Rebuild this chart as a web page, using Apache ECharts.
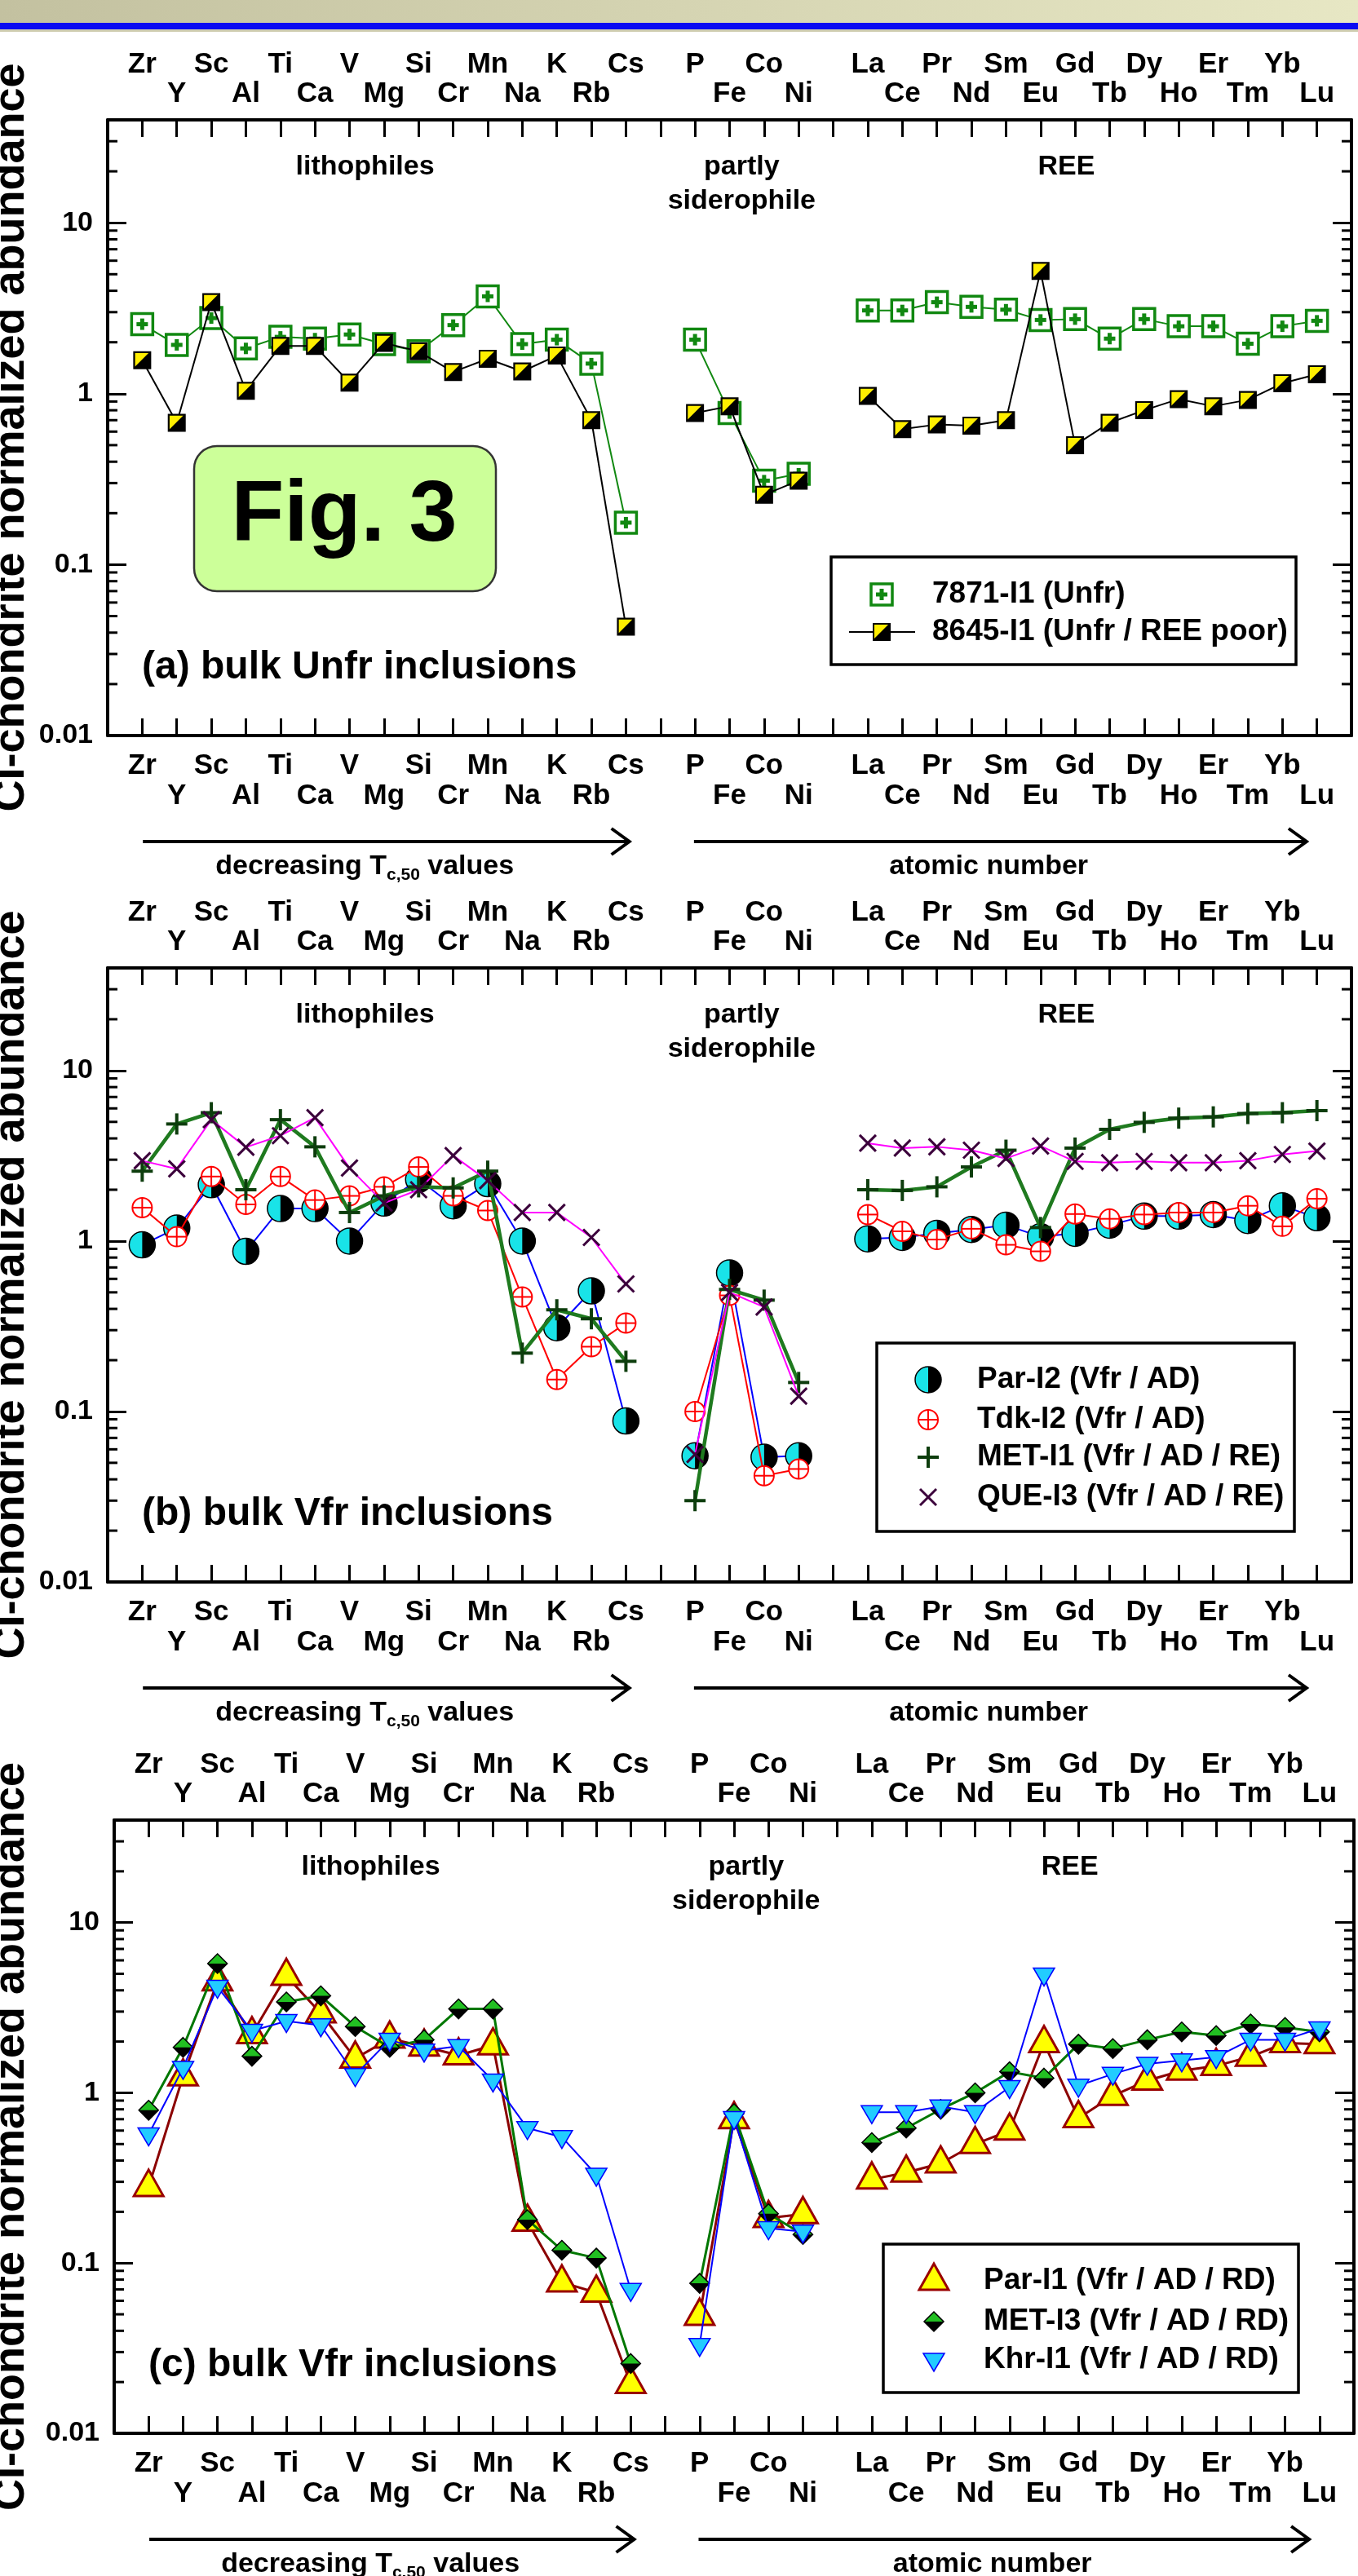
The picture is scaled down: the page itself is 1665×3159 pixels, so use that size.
<!DOCTYPE html>
<html><head><meta charset="utf-8">
<script src="https://cdn.jsdelivr.net/npm/echarts@6/dist/echarts.min.js"></script>
<style>html,body{margin:0;padding:0;background:#fff}#c{width:1665px;height:3159px}</style>
</head><body><div id="c"></div>
<script>
// ---------------- data ----------------
const ELEMENTS = ['Zr','Y','Sc','Al','Ti','Ca','V','Mg','Si','Cr','Mn','Na','K','Rb','Cs','',
  'P','Fe','Co','Ni','',
  'La','Ce','Pr','Nd','Sm','Eu','Gd','Tb','Dy','Ho','Er','Tm','Yb','Lu'];
const Y_TICK_LABELS = [0.01, 0.1, 1, 10];
const MINOR_TICKS = [0.02,0.03,0.04,0.05,0.06,0.07,0.08,0.09,0.2,0.3,0.4,0.5,0.6,0.7,0.8,0.9,2,3,4,5,6,7,8,9,20,30];

// panel (a)
const A_7871 = [2.55,1.93,2.77,1.84,2.15,2.10,2.22,1.95,1.77,2.52,3.71,1.95,2.07,1.50,0.176,null,
  2.07,0.77,0.31,0.34,null,
  3.07,3.07,3.43,3.22,3.10,2.70,2.73,2.10,2.73,2.48,2.48,1.96,2.48,2.67];
const A_8645 = [1.57,0.676,3.43,1.04,1.90,1.90,1.16,1.98,1.77,1.34,1.60,1.35,1.67,0.70,0.0434,null,
  0.77,0.845,0.256,0.31,null,
  0.97,0.62,0.66,0.65,0.70,5.22,0.50,0.676,0.80,0.93,0.845,0.92,1.15,1.30];
// panel (b)
const B_PAR = [0.95,1.19,2.14,0.87,1.55,1.55,1.00,1.67,2.30,1.61,2.17,1.00,0.31,0.51,0.088,null,
  0.055,0.65,0.054,0.055,null,
  1.03,1.05,1.11,1.17,1.24,1.06,1.11,1.24,1.40,1.40,1.43,1.32,1.61,1.37];
const B_TDK = [1.57,1.06,2.39,1.64,2.39,1.74,1.84,2.08,2.72,1.84,1.51,0.47,0.154,0.24,0.33,null,
  0.10,0.48,0.042,0.046,null,
  1.43,1.14,1.02,1.18,0.95,0.87,1.44,1.35,1.43,1.47,1.47,1.61,1.22,1.77];
const B_MET = [2.57,4.86,5.66,2.00,5.15,3.57,1.47,1.84,2.08,2.05,2.57,0.22,0.395,0.35,0.197,null,
  0.030,0.52,0.45,0.148,null,
  2.00,1.98,2.08,2.72,3.41,1.20,3.51,4.52,4.97,5.26,5.35,5.60,5.66,5.82];
const B_QUE = [2.96,2.65,5.15,3.55,4.15,5.29,2.68,1.67,2.00,3.17,2.26,1.47,1.47,1.05,0.56,null,
  0.056,0.50,0.41,0.123,null,
  3.75,3.51,3.57,3.41,3.05,3.61,2.93,2.88,2.93,2.88,2.88,2.96,3.22,3.37];
// panel (c)
const C_PAR = [0.28,1.25,4.52,2.21,4.86,2.93,1.59,2.08,1.87,1.66,1.90,0.175,0.077,0.067,0.0195,null,
  0.049,0.70,0.184,0.194,null,
  0.31,0.34,0.385,0.50,0.60,1.96,0.71,0.96,1.18,1.35,1.44,1.63,1.96,1.93];
const C_MET = [0.79,1.85,5.74,1.64,3.42,3.71,2.45,1.85,2.05,3.11,3.11,0.18,0.119,0.107,0.0257,null,
  0.076,0.755,0.195,0.147,null,
  0.51,0.62,0.80,1.00,1.33,1.22,1.93,1.82,2.05,2.28,2.17,2.54,2.42,2.28];
const C_KHR = [0.57,1.40,4.19,2.31,2.64,2.49,1.27,2.05,1.77,1.88,1.18,0.62,0.55,0.33,0.0695,null,
  0.033,0.71,0.16,0.153,null,
  0.77,0.77,0.83,0.77,1.08,4.95,1.10,1.29,1.48,1.55,1.62,2.05,2.05,2.39];

// ---------------- layout / style ----------------
const FONT = '"Liberation Sans", Arial, Helvetica, sans-serif';
const NPOS = 36;
const PANELS = [
  {left:132, right:1657, top:147, bottom:902, title:'(a) bulk Unfr inclusions'},
  {left:132, right:1657, top:1187, bottom:1940, title:'(b) bulk Vfr inclusions'},
  {left:140, right:1660, top:2232, bottom:2984, title:'(c) bulk Vfr inclusions'}
];
const SETS = [
  [ {name:'7871-I1 (Unfr)', data:A_7871, color:'#118811', width:2, mark:'sqPlus', legendLine:false},
    {name:'8645-I1 (Unfr / REE poor)', data:A_8645, color:'#000000', width:2, mark:'sqHalf', legendLine:true} ],
  [ {name:'Par-I2 (Vfr / AD)', data:B_PAR, color:'#0000ff', width:2, mark:'halfCircle'},
    {name:'Tdk-I2 (Vfr / AD)', data:B_TDK, color:'#ff0000', width:2, mark:'circPlus'},
    {name:'MET-I1 (Vfr / AD / RE)', data:B_MET, color:'#1f7a1f', width:4.5, mark:'plus'},
    {name:'QUE-I3 (Vfr / AD / RE)', data:B_QUE, color:'#ff00ff', width:2, mark:'cross'} ],
  [ {name:'Par-I1 (Vfr / AD / RD)', data:C_PAR, color:'#8b0000', width:3, mark:'triUp'},
    {name:'MET-I3 (Vfr / AD / RD)', data:C_MET, color:'#007700', width:3, mark:'diamond'},
    {name:'Khr-I1 (Vfr / AD / RD)', data:C_KHR, color:'#0000ff', width:2, mark:'triDown'} ]
];
const LEGENDS = [
  {box:[1019,683,570,132], rows:[729,775], iconX:1081, textX:1143},
  {box:[1075,1647,512,231], rows:[1692,1741,1787,1836], iconX:1138, textX:1198},
  {box:[1083,2752,509,182], rows:[2797,2847,2894], iconX:1145, textX:1206}
];

// row (1 = first row next to/away from frame) for staggered element labels
const ROW = [];
(function(){ let k = 0; ELEMENTS.forEach(e => { if (!e) { k = 0; ROW.push(0); } else { ROW.push(k % 2 === 0 ? 1 : 2); k++; } }); })();
function labelFor(v, row) {
  const i = Math.round(v) - 1;
  if (i < 0 || i >= ELEMENTS.length) return '';
  return ROW[i] === row ? ELEMENTS[i] : '';
}
function fmtY(v) {
  for (const t of Y_TICK_LABELS) if (Math.abs(v - t) / t < 1e-6) return String(t);
  return '';
}

const MARK = {
  sqPlus: (x, y) => [
    {type:'rect', shape:{x:x-13, y:y-13, width:26, height:26}, style:{fill:'#fff', stroke:'#118811', lineWidth:3.5}},
    {type:'rect', shape:{x:x-7, y:y-2.5, width:14, height:5}, style:{fill:'#118811'}},
    {type:'rect', shape:{x:x-2.5, y:y-7, width:5, height:14}, style:{fill:'#118811'}}
  ],
  sqHalf: (x, y) => [
    {type:'rect', shape:{x:x-10, y:y-10, width:20, height:20}, style:{fill:'#000'}},
    {type:'polygon', shape:{points:[[x-9,y-9],[x+8,y-9],[x-9,y+8]]}, style:{fill:'#ffee00'}},
    {type:'rect', shape:{x:x-10, y:y-10, width:20, height:20}, style:{fill:'none', stroke:'#000', lineWidth:2}}
  ],
  halfCircle: (x, y) => [
    {type:'circle', shape:{cx:x, cy:y, r:16}, style:{fill:'#000'}},
    {type:'sector', shape:{cx:x, cy:y, r0:0, r:16, startAngle:Math.PI/2, endAngle:Math.PI*1.5, clockwise:true}, style:{fill:'#19e3e8'}},
    {type:'circle', shape:{cx:x, cy:y, r:16}, style:{fill:'none', stroke:'#000', lineWidth:1.5}}
  ],
  circPlus: (x, y) => [
    {type:'circle', shape:{cx:x, cy:y, r:12}, style:{fill:'#fff', stroke:'#ff0000', lineWidth:2}},
    {type:'line', shape:{x1:x-12, y1:y, x2:x+12, y2:y}, style:{stroke:'#ff0000', lineWidth:2}},
    {type:'line', shape:{x1:x, y1:y-12, x2:x, y2:y+12}, style:{stroke:'#ff0000', lineWidth:2}}
  ],
  plus: (x, y) => [
    {type:'line', shape:{x1:x-13, y1:y, x2:x+13, y2:y}, style:{stroke:'#0d3d0d', lineWidth:4}},
    {type:'line', shape:{x1:x, y1:y-13, x2:x, y2:y+13}, style:{stroke:'#0d3d0d', lineWidth:4}}
  ],
  cross: (x, y) => [
    {type:'line', shape:{x1:x-10, y1:y-10, x2:x+10, y2:y+10}, style:{stroke:'#3b003b', lineWidth:3}},
    {type:'line', shape:{x1:x-10, y1:y+10, x2:x+10, y2:y-10}, style:{stroke:'#3b003b', lineWidth:3}}
  ],
  triUp: (x, y) => [
    {type:'polygon', shape:{points:[[x,y-21],[x+18,y+11],[x-18,y+11]]}, style:{fill:'#ffff00', stroke:'#990000', lineWidth:3, lineJoin:'miter'}}
  ],
  diamond: (x, y) => [
    {type:'polygon', shape:{points:[[x,y-12],[x+12,y],[x,y+12],[x-12,y]]}, style:{fill:'#000'}},
    {type:'polygon', shape:{points:[[x,y-12],[x+12,y],[x-12,y]]}, style:{fill:'#22c022'}},
    {type:'polygon', shape:{points:[[x,y-12],[x+12,y],[x,y+12],[x-12,y]]}, style:{fill:'none', stroke:'#000', lineWidth:1.5}}
  ],
  triDown: (x, y) => [
    {type:'polygon', shape:{points:[[x-13,y-8],[x+13,y-8],[x,y+14]]}, style:{fill:'#22ccff', stroke:'#0000ff', lineWidth:1.5}}
  ]
};

// ---------------- build option ----------------
const grids = [], xAxes = [], yAxes = [], series = [], graphics = [];
const axisLineStyle = {color:'#000', width:4};
const tickStyle = {color:'#000', width:3};

function px(p, u) { return p.left + u * (p.right - p.left) / NPOS; }
function txt(x, y, text, size, extra) {
  return {type:'text', x, y, z:50, style:Object.assign({text, fill:'#000', fontSize:size, fontWeight:'bold', fontFamily:FONT, align:'center', verticalAlign:'middle'}, extra || {})};
}

PANELS.forEach((p, g) => {
  grids.push({left:p.left, top:p.top, width:p.right - p.left, height:p.bottom - p.top, containLabel:false});
  const baseX = {type:'value', gridIndex:g, min:0, max:NPOS, interval:1, splitLine:{show:false}};
  const lbl = (row, margin) => ({show:true, margin, fontSize:35, fontWeight:'bold', fontFamily:FONT, color:'#000', lineHeight:35,
    formatter: v => labelFor(v, row), showMinLabel:true, showMaxLabel:true});
  xAxes.push(Object.assign({}, baseX, {position:'bottom', axisLine:{show:true, onZero:false, lineStyle:axisLineStyle},
    axisTick:{show:true, inside:true, length:21, lineStyle:tickStyle}, axisLabel:lbl(1, 20)}));
  xAxes.push(Object.assign({}, baseX, {position:'bottom', axisLine:{show:false}, axisTick:{show:false}, axisLabel:lbl(2, 57)}));
  xAxes.push(Object.assign({}, baseX, {position:'top', axisLine:{show:true, onZero:false, lineStyle:axisLineStyle},
    axisTick:{show:true, inside:true, length:21, lineStyle:tickStyle}, axisLabel:lbl(2, 14)}));
  xAxes.push(Object.assign({}, baseX, {position:'top', axisLine:{show:false}, axisTick:{show:false}, axisLabel:lbl(1, 50)}));

  const baseY = {type:'log', logBase:10, gridIndex:g, min:0.01, max:40, splitLine:{show:false}, minorTick:{show:false},
    axisLine:{show:true, onZero:false, lineStyle:axisLineStyle}, axisTick:{show:true, inside:true, length:23, lineStyle:tickStyle}};
  yAxes.push(Object.assign({}, baseY, {position:'left', axisLabel:{show:true, margin:18, fontSize:34, fontWeight:'bold', fontFamily:FONT, color:'#000', formatter:fmtY}}));
  yAxes.push(Object.assign({}, baseY, {position:'right', axisLabel:{show:false}}));

  const xi = 4 * g, yi = 2 * g;
  // minor log ticks on both sides
  series.push({type:'custom', xAxisIndex:xi, yAxisIndex:yi, silent:true, clip:false, z:30,
    data: MINOR_TICKS.map(v => [0, v]),
    renderItem: (params, api) => {
      const a = api.coord([0, api.value(1)]), b = api.coord([NPOS, api.value(1)]);
      return {type:'group', children:[
        {type:'line', shape:{x1:a[0], y1:a[1], x2:a[0] + 12, y2:a[1]}, style:{stroke:'#000', lineWidth:3}},
        {type:'line', shape:{x1:b[0] - 12, y1:b[1], x2:b[0], y2:b[1]}, style:{stroke:'#000', lineWidth:3}}
      ]};
    }});

  SETS[g].forEach((s, k) => {
    series.push({type:'line', name:s.name, xAxisIndex:xi, yAxisIndex:yi, z:3 + 2 * k, symbol:'none', connectNulls:false,
      lineStyle:{color:s.color, width:s.width}, itemStyle:{color:s.color},
      data: s.data.map((v, i) => [i + 1, v == null ? '-' : v])});
    series.push({type:'custom', name:s.name + ' marks', xAxisIndex:xi, yAxisIndex:yi, z:4 + 2 * k, clip:false, silent:true,
      data: s.data.map((v, i) => v == null ? null : [i + 1, v]).filter(d => d),
      renderItem: (params, api) => {
        const c = api.coord([api.value(0), api.value(1)]);
        return {type:'group', children: MARK[s.mark](c[0], c[1])};
      }});
  });

  // annotations
  graphics.push(txt(px(p, 7.45), p.top + 58, 'lithophiles', 34));
  graphics.push(txt(px(p, 18.35), p.top + 58, 'partly', 34));
  graphics.push(txt(px(p, 18.35), p.top + 100, 'siderophile', 34));
  graphics.push(txt(px(p, 27.75), p.top + 58, 'REE', 34));
  graphics.push(txt(p.left + 42, p.bottom - 83, p.title, 48, {align:'left'}));
  // y title
  graphics.push({type:'text', x:14, y:(p.top + p.bottom) / 2 + 12, rotation:Math.PI / 2, z:50,
    style:{text:'CI-chondrite normalized abundance', fill:'#000', fontSize:54, fontWeight:'bold', fontFamily:FONT, align:'center', verticalAlign:'middle'}});
  // arrows
  const ay = p.bottom + 130;
  [[1.02, 15.1], [16.97, 34.7]].forEach(([u1, u2]) => {
    const x1 = px(p, u1), x2 = px(p, u2);
    graphics.push({type:'line', z:50, shape:{x1, y1:ay, x2:x2 - 2, y2:ay}, style:{stroke:'#000', lineWidth:4}});
    graphics.push({type:'polyline', z:50, shape:{points:[[x2 - 22, ay - 16], [x2, ay], [x2 - 22, ay + 16]]}, style:{stroke:'#000', lineWidth:4, fill:'none'}});
  });
  graphics.push(txt(px(p, 7.44), p.bottom + 161, 'decreasing T{s|c,50} values', 34,
    {rich:{s:{fontSize:21, fontWeight:'bold', fontFamily:FONT, fill:'#000', padding:[20, 0, 0, 0]}}}));
  graphics.push(txt(px(p, 25.5), p.bottom + 161, 'atomic number', 34));

  // legend
  const L = LEGENDS[g];
  graphics.push({type:'rect', z:40, shape:{x:L.box[0], y:L.box[1], width:L.box[2], height:L.box[3]}, style:{fill:'#fff', stroke:'#000', lineWidth:3.5}});
  SETS[g].forEach((s, k) => {
    const ry = L.rows[k];
    if (s.legendLine) graphics.push({type:'line', z:41, shape:{x1:L.iconX - 40, y1:ry, x2:L.iconX + 41, y2:ry}, style:{stroke:s.color, lineWidth:s.width}});
    graphics.push({type:'group', z:42, children: MARK[s.mark](L.iconX, ry).map(c => Object.assign(c, {z:42}))});
    graphics.push(txt(L.textX, ry, s.name, 37, {align:'left'}));
  });
});

// Fig. 3 box
graphics.push({type:'rect', z:40, shape:{x:238, y:547, width:370, height:178, r:28}, style:{fill:'#ccff99', stroke:'#333', lineWidth:2.5}});
graphics.push(txt(422, 634, 'Fig. 3', 106));

// header band
graphics.push({type:'rect', z:60, shape:{x:0, y:0, width:1665, height:28},
  style:{fill:new echarts.graphic.LinearGradient(0, 0, 1, 0, [{offset:0, color:'#c3c1a0'}, {offset:1, color:'#e7e7c4'}])}});
graphics.push({type:'rect', z:60, shape:{x:0, y:28, width:1665, height:8}, style:{fill:'#0a0af2'}});
graphics.push({type:'rect', z:60, shape:{x:0, y:36, width:1665, height:3}, style:{fill:'#cfcdb0'}});

const chart = echarts.init(document.getElementById('c'), null, {renderer:'canvas', width:1665, height:3159});
chart.setOption({
  backgroundColor:'#ffffff',
  animation:false,
  grid:grids, xAxis:xAxes, yAxis:yAxes, series, graphic:graphics
});
</script>
</body></html>
